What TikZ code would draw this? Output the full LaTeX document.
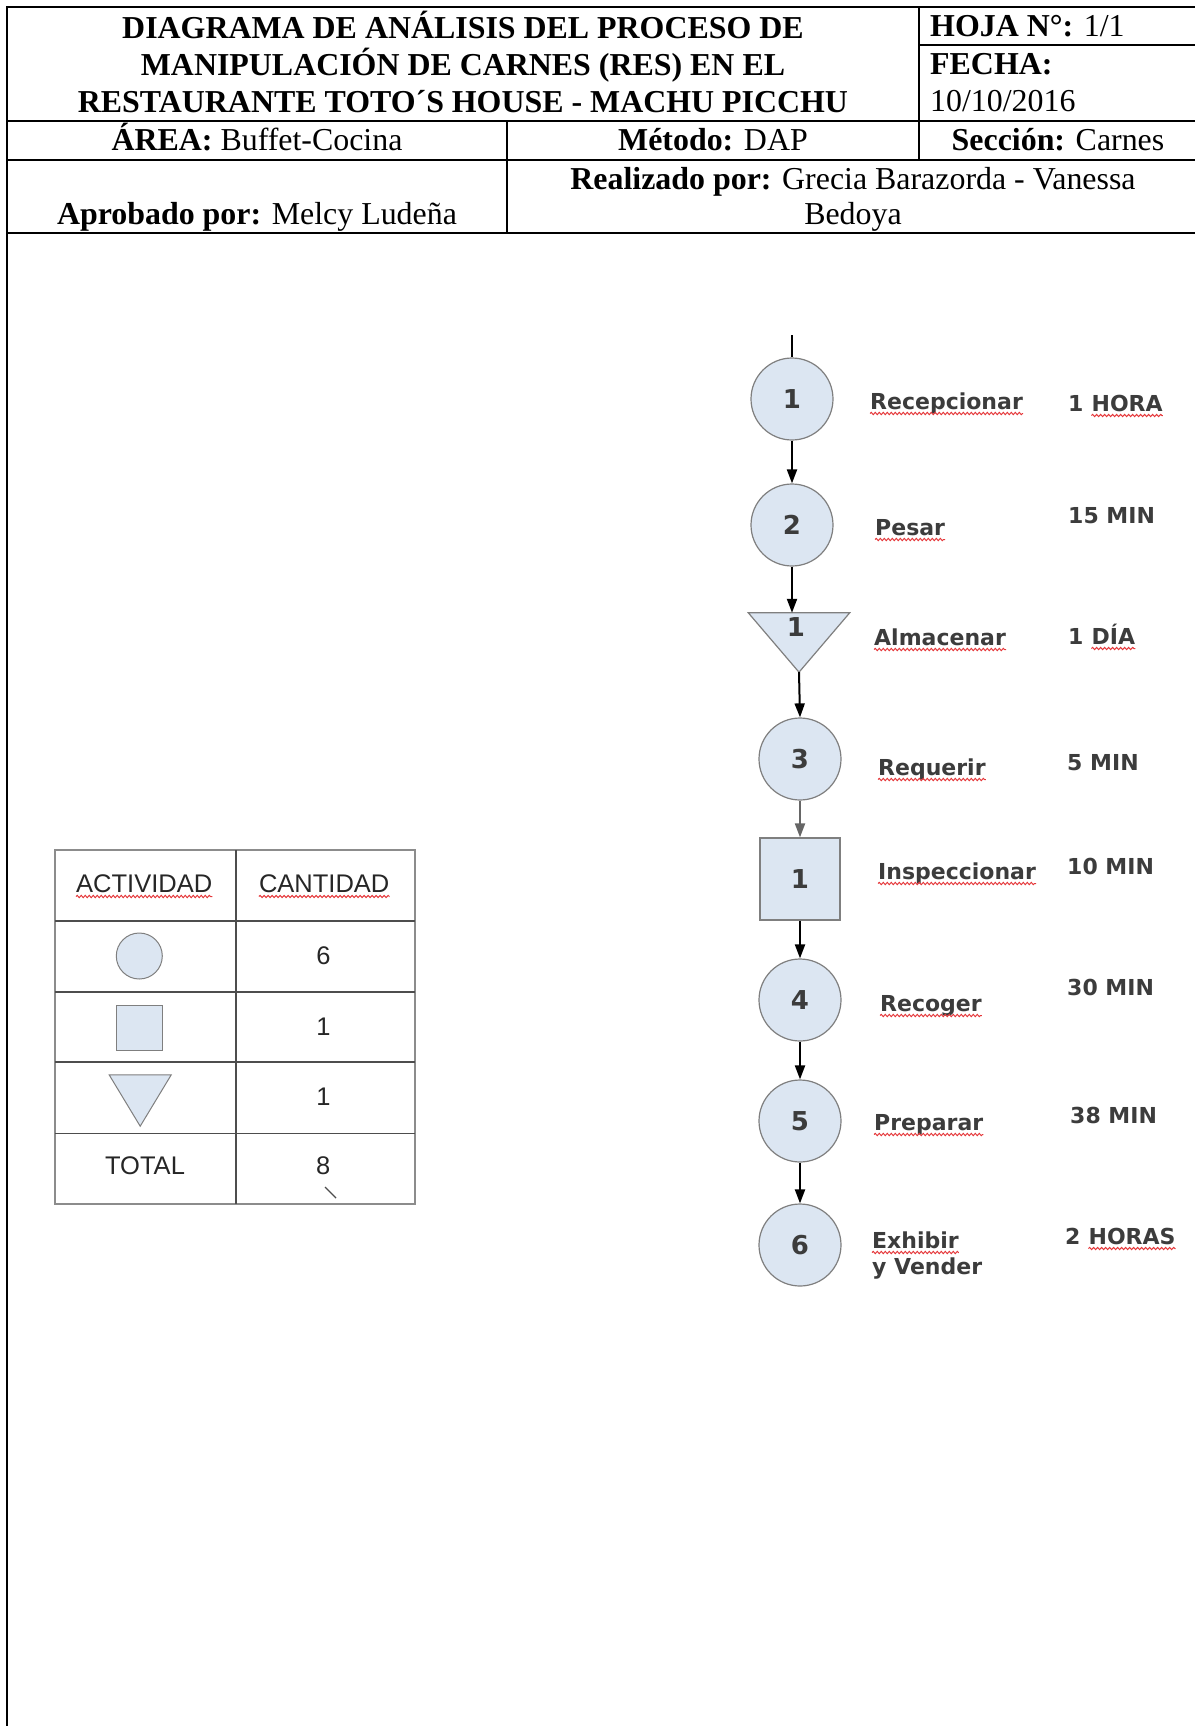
\documentclass[tikz,border=0pt]{standalone}
\usepackage{fontspec}
\setmainfont{Liberation Serif}
\newfontfamily\flowfont{DejaVu Sans}
\newfontfamily\tablefont{Liberation Sans}
\usetikzlibrary{arrows.meta,decorations.pathmorphing}

\definecolor{shapefill}{HTML}{DCE6F2}
\definecolor{shapeline}{HTML}{7F7F7F}
\definecolor{labelgray}{HTML}{3C3C3C}
\definecolor{squigred}{HTML}{E5383B}
\definecolor{tabouterline}{HTML}{8C8C8C}
\definecolor{tabinnerline}{HTML}{4D4D4D}

\begin{document}
\begin{tikzpicture}[x=1pt,y=-1pt,
  rule/.style={line width=2pt},
  hdr/.style={inner sep=0pt, anchor=base, font=\fontsize{31.9}{37}\selectfont},
  flowshape/.style={draw=shapeline, fill=shapefill, line width=1.2pt, inner sep=0pt,
    font=\flowfont\bfseries\fontsize{26}{26}\selectfont, text=labelgray},
  stepcircle/.style={flowshape, circle, minimum size=82pt},
  flowarrow/.style={line width=2pt, -{Triangle[length=14pt,width=10pt]}},
  steplabel/.style={font=\flowfont\bfseries\fontsize{22}{26}\selectfont, text=labelgray,
    inner sep=0pt, anchor=base west},
  squig/.style={draw=squigred, line width=1pt, decorate,
    decoration={snake, segment length=4pt, amplitude=1.1pt}},
  tabtext/.style={font=\tablefont\fontsize{25.5}{28}\selectfont, text=black!85,
    inner sep=0pt, anchor=base},
  tabshape/.style={draw=shapeline, fill=shapefill, line width=1pt, inner sep=0pt},
  tabouter/.style={draw=tabouterline, line width=1.8pt},
  tabinner/.style={draw=tabinnerline, line width=1.6pt}
]
\useasboundingbox (0,0) rectangle (1195,1726);

% ---------- header grid ----------
\draw[rule] (7,1726) -- (7,7) -- (1195,7);
\draw[rule] (7,121) -- (1195,121);
\draw[rule] (7,160) -- (1195,160);
\draw[rule] (7,233) -- (1195,233);
\draw[rule] (919,7) -- (919,160);
\draw[rule] (919,45) -- (1195,45);
\draw[rule] (507,121) -- (507,233);

% ---------- header text ----------
\node[hdr] (title1) at (463,39) {\bfseries DIAGRAMA DE ANÁLISIS DEL PROCESO DE};
\node[hdr] (title2) at (463,76) {\bfseries MANIPULACIÓN DE CARNES (RES) EN EL};
\node[hdr] (title3) at (463,113) {\bfseries RESTAURANTE TOTO´S HOUSE - MACHU PICCHU};
\node[hdr, anchor=base west] (hoja) at (930,37) {\textbf{HOJA N°:} 1/1};
\node[hdr, anchor=base west] (fecha) at (930,75) {\textbf{FECHA:}};
\node[hdr, anchor=base west] (fechaval) at (930,112) {10/10/2016};
\node[hdr] (area) at (257,150) {\textbf{ÁREA:} Buffet-Cocina};
\node[hdr] (metodo) at (713,150) {\textbf{Método:} DAP};
\node[hdr] (seccion) at (1058,150) {\textbf{Sección:} Carnes};
\node[hdr] (realiz1) at (853,189) {\textbf{Realizado por:} Grecia Barazorda - Vanessa};
\node[hdr] (realiz2) at (853,224) {Bedoya};
\node[hdr] (aprob) at (257,224) {\textbf{Aprobado por:} Melcy Ludeña};

% ---------- process chart ----------
\coordinate (start) at (792,335);
\node[stepcircle] (op1) at (792,399) {1};
\node[stepcircle] (op2) at (792,525) {2};
\node[minimum width=101pt, minimum height=59pt, inner sep=0pt] (st1) at (799,642.5) {};
\draw[flowshape] (st1.north west) -- (st1.north east) -- (st1.south) -- cycle;
\node[font=\flowfont\bfseries\fontsize{26}{26}\selectfont, text=labelgray, inner sep=0pt, anchor=base]
  (st1num) at (796,636) {1};
\node[stepcircle] (op3) at (800,759) {3};
\node[flowshape, minimum width=80pt, minimum height=82pt] (in1) at (800,879) {1};
\node[stepcircle] (op4) at (800,1000) {4};
\node[stepcircle] (op5) at (800,1121) {5};
\node[stepcircle] (op6) at (800,1245) {6};

\draw[line width=2pt] (start) -- (op1.north);
\draw[flowarrow] (op1) -- (op2);
\draw[flowarrow] (op2.south) -- (op2.south |- st1.north);
\draw[flowarrow] (st1.south) -- (op3.north);
\draw[flowarrow, draw=black!60] (op3) -- (in1);
\draw[flowarrow] (in1) -- (op4);
\draw[flowarrow] (op4) -- (op5);
\draw[flowarrow] (op5) -- (op6);

% activity names
\node[steplabel] (a1) at (870,409) {Recepcionar};
\node[steplabel] (a2) at (875,535) {Pesar};
\node[steplabel] (a3) at (874,645) {Almacenar};
\node[steplabel] (a4) at (878,775) {Requerir};
\node[steplabel] (a5) at (878,879) {Inspeccionar};
\node[steplabel] (a6) at (880,1011) {Recoger};
\node[steplabel] (a7) at (874,1130) {Preparar};
\node[steplabel] (a8) at (872,1248) {Exhibir};
\node[steplabel] (a8b) at (872,1274) {y Vender};

% durations
\node[steplabel] (t1n) at (1068,411) {1};
\node[steplabel, xshift=7.7pt] (t1w) at (t1n.base east) {HORA};
\node[steplabel] (t2) at (1068,523) {15 MIN};
\node[steplabel] (t3n) at (1068,644) {1};
\node[steplabel, xshift=7.7pt] (t3w) at (t3n.base east) {DÍA};
\node[steplabel] (t4) at (1067,770) {5 MIN};
\node[steplabel] (t5) at (1067,874) {10 MIN};
\node[steplabel] (t6) at (1067,995) {30 MIN};
\node[steplabel] (t7) at (1070,1123) {38 MIN};
\node[steplabel] (t8n) at (1065,1244) {2};
\node[steplabel, xshift=7.7pt] (t8w) at (t8n.base east) {HORAS};

% spell-check underlines
\foreach \w in {a1,a2,a3,a4,a5,a6,a7,a8,t1w,t3w,t8w}
  \draw[squig] ([yshift=-4.5pt]\w.base west) -- ([yshift=-4.5pt]\w.base east);

% ---------- summary table ----------
\draw[tabouter] (55,850) rectangle (415,1204);
\draw[tabinner] (235.7,850) -- (235.7,1204);
\foreach \yy in {920.7,991.7,1061.7,1133.3}
  \draw[tabinner] (55,\yy) -- (415,\yy);

\node[tabtext] (hact) at (144.2,892) {ACTIVIDAD};
\node[tabtext] (hcant) at (324.2,892) {CANTIDAD};
\foreach \w in {hact,hcant}
  \draw[squig] ([yshift=-4.5pt]\w.base west) -- ([yshift=-4.5pt]\w.base east);

\node[tabshape, circle, minimum size=46pt] (symop) at (139.3,956) {};
\node[tabshape, rectangle, minimum width=45.6pt, minimum height=45.7pt] (symin) at (139.5,1028) {};
\node[minimum width=61.7pt, minimum height=51pt, inner sep=0pt] (symst) at (140.2,1100.5) {};
\draw[tabshape] (symst.north west) -- (symst.north east) -- (symst.south) -- cycle;

\node[tabtext] (cnt1) at (323.5,964) {6};
\node[tabtext] (cnt2) at (323.5,1035) {1};
\node[tabtext] (cnt3) at (323.5,1105) {1};
\node[tabtext] (tot) at (145,1174) {TOTAL};
\node[tabtext] (cnt4) at (323.3,1174) {8};
\draw[line width=1.4pt, black!70] (325,1187) -- (336,1198);

\end{tikzpicture}
\end{document}
